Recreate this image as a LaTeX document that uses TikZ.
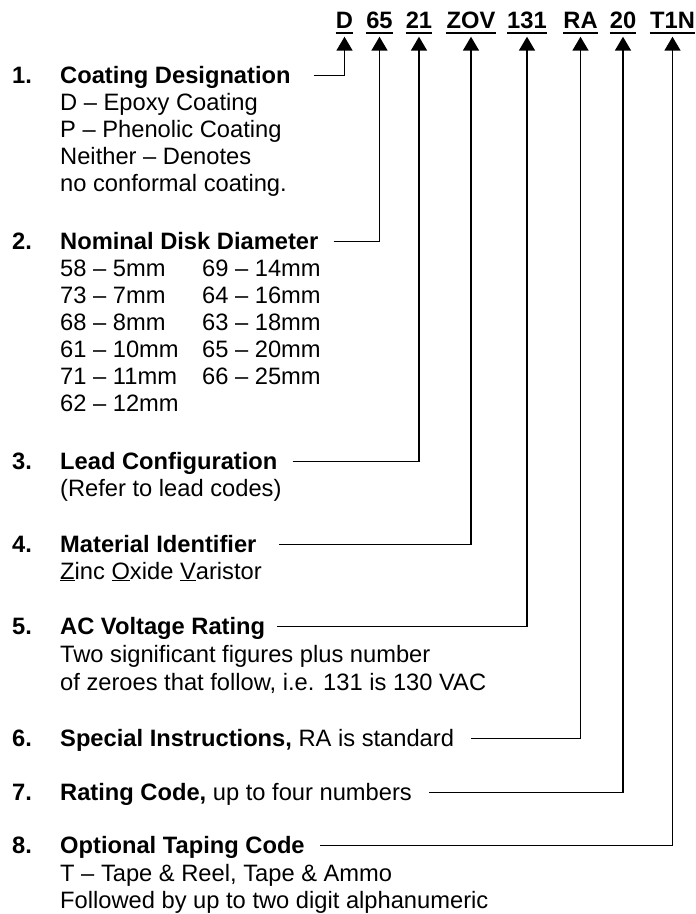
\documentclass[tikz,border=0pt]{standalone}
\usepackage{fontspec}
\setmainfont{Liberation Sans}
\usetikzlibrary{arrows.meta,calc}
\newcommand{\fsz}{\fontsize{23.7}{27}\selectfont}
\begin{document}
\begin{tikzpicture}[x=1pt,y=-1pt,
  txt/.style={anchor=base west,inner sep=0pt,font=\fsz},
  hd/.style={anchor=base west,inner sep=0pt,font=\fsz\bfseries},
  code/.style={anchor=base,inner sep=0pt,text depth=0pt,font=\fsz\bfseries},
  uline/.style={line width=2pt},
  conn/.style={line width=1.7pt,-{Triangle[length=14pt,width=16pt]}}]
\useasboundingbox (0,0) rectangle (696,914);
% part number codes
\foreach \nm/\xx/\tx in {cD/344.5/D,c65/379.5/65,c21/419/21,cZOV/471/ZOV,c131/527/131,cRA/580.5/RA,c20/623/20,cT1N/672.5/T1N}{
  \node[code] (\nm) at (\xx,28) {\tx};
  \draw[uline] ($(\nm.south west)+(0,4.5)$) -- ($(\nm.south east)+(0,4.5)$);
  \coordinate (t\nm) at ($(\nm.south)+(0,8.5)$);
}
% item 1
\node[hd] (n1) at (12,83) {1.};
\node[hd] (h1) at (60,83) {Coating Designation};
\node[txt] (d1a) at (60,110) {D -- Epoxy Coating};
\node[txt] (d1b) at (60,137) {P -- Phenolic Coating};
\node[txt] (d1c) at (60,164) {Neither -- Denotes};
\node[txt] (d1d) at (60,191) {no conformal coating.};
% item 2
\node[hd] (n2) at (12,249) {2.};
\node[hd] (h2) at (60,249) {Nominal Disk Diameter};
\node[txt] (d2a) at (60,276) {58 -- 5mm};
\node[txt] (d2b) at (60,303) {73 -- 7mm};
\node[txt] (d2c) at (60,330) {68 -- 8mm};
\node[txt] (d2d) at (60,357) {61 -- 10mm};
\node[txt] (d2e) at (60,384) {71 -- 11mm};
\node[txt] (d2f) at (60,411) {62 -- 12mm};
\node[txt] (e2a) at (202,276) {69 -- 14mm};
\node[txt] (e2b) at (202,303) {64 -- 16mm};
\node[txt] (e2c) at (202,330) {63 -- 18mm};
\node[txt] (e2d) at (202,357) {65 -- 20mm};
\node[txt] (e2e) at (202,384) {66 -- 25mm};
% item 3
\node[hd] (n3) at (12,469) {3.};
\node[hd] (h3) at (60,469) {Lead Configuration};
\node[txt] (d3a) at (60,496) {(Refer to lead codes)};
% item 4
\node[hd] (n4) at (12,552) {4.};
\node[hd] (h4) at (60,552) {Material Identifier};
\node[txt] (d4a) at (60,579) {\underline{Z}inc \underline{O}xide \underline{V}aristor};
% item 5
\node[hd] (n5) at (12,634) {5.};
\node[hd] (h5) at (60,634) {AC Voltage Rating};
\node[txt] (d5a) at (60,662) {Two significant figures plus number};
\node[txt] (d5b) at (60,690) {of zeroes that follow, i.e. 131 is 130 VAC};
% item 6
\node[hd] (n6) at (12,746) {6.};
\node[txt] (h6) at (60,746) {\textbf{Special Instructions,} RA is standard};
% item 7
\node[hd] (n7) at (12,800) {7.};
\node[txt] (h7) at (60,800) {\textbf{Rating Code,} up to four numbers};
% item 8
\node[hd] (n8) at (12,853) {8.};
\node[hd] (h8) at (60,853) {Optional Taping Code};
\node[txt] (d8a) at (60,881) {T -- Tape \& Reel, Tape \& Ammo};
\node[txt] (d8b) at (60,908) {Followed by up to two digit alphanumeric};
% connectors
\foreach \h/\g/\t in {h1/23/cD,h2/15/c65,h3/15/c21,h4/22/cZOV,h5/12/c131,h6/17/cRA,h7/17/c20,h8/15/cT1N}{
  \coordinate (s\h) at ($(\h.base east)+(\g,-7.5)$);
  \draw[conn] (s\h) -| (t\t);
}
\end{tikzpicture}
\end{document}
